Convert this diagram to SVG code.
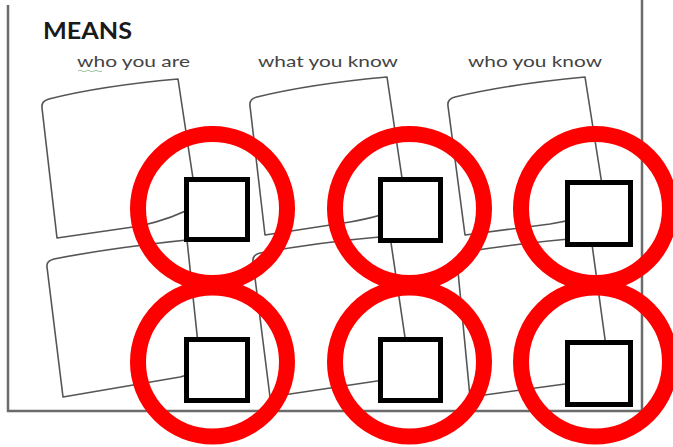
<svg xmlns="http://www.w3.org/2000/svg" width="673" height="447" viewBox="0 0 673 447">
<defs>
<filter id="blur" x="-10%" y="-10%" width="120%" height="120%"><feGaussianBlur stdDeviation="1.3"/></filter>
</defs>
<style>
.frame{stroke:#6b6b6b;stroke-width:2.5;fill:none}
.note{fill:#fff;stroke:#555;stroke-width:1.6;stroke-linejoin:round}
.shadow{fill:none;stroke:#aaa;stroke-width:3;filter:url(#blur)}
.box{fill:#fff;stroke:#000;stroke-width:5}
.ring{fill:none;stroke:#ff0000;stroke-width:16}
.title{font-family:Lato,"Liberation Sans",sans-serif;font-weight:bold;font-size:22px;fill:#1a1a1a}
.label{font-family:Lato,"Liberation Sans",sans-serif;font-size:16px;fill:#444}
</style>
<rect width="673" height="447" fill="#fff"/>
<g id="frame">
<line class="frame" x1="8" y1="5" x2="8" y2="412"/>
<line class="frame" x1="7" y1="411" x2="643" y2="411"/>
<line class="frame" x1="642" y1="0" x2="642" y2="412"/>
</g>
<g id="heading">
<text class="title" x="43" y="39" textLength="89" lengthAdjust="spacingAndGlyphs">MEANS</text>
<text class="label" x="77" y="67" textLength="113" lengthAdjust="spacingAndGlyphs">who you are</text>
<path d="M78,71 q2,-1.5 4,0 t4,0 t4,0 t4,0 t4,0 t4,0" fill="none" stroke="#9cc79c" stroke-width="1"/>
<text class="label" x="258" y="67" textLength="140" lengthAdjust="spacingAndGlyphs">what you know</text>
<text class="label" x="468" y="67" textLength="134" lengthAdjust="spacingAndGlyphs">who you know</text>
</g>
<g id="notes">
<path class="shadow" d="M44,110 Q44,103 51,101 Q100,89 176,82"/>
<path class="note" d="M42,108 Q41,101 49,99 Q100,86 178,79 L197,205 Q175,218 140,226 L57,238 Z"/>
<path class="shadow" d="M252,108 Q252,101 259,99 Q310,87 385,80"/>
<path class="note" d="M250,106 Q249,99 257,97 Q310,84 387,77 L406,205 Q385,216 350,222 L265,235 Z"/>
<path class="shadow" d="M450,108 Q450,101 457,99 Q510,87 583,80"/>
<path class="note" d="M448,106 Q447,99 455,97 Q510,84 585,77 L606,210 Q585,218 550,224 L465,235 Z"/>
<path class="shadow" d="M49,269 Q49,263 56,261 Q110,251 185,243"/>
<path class="note" d="M47,267 Q46,261 54,259 Q110,248 187,240 L201,372 Q190,374 180,377 L63,397 Z"/>
<path class="shadow" d="M255,264 Q255,257 262,255 Q320,245 388,239"/>
<path class="note" d="M253,262 Q252,255 260,253 Q320,242 390,236 L411,378 Q395,380 377,381 L270,397 Z"/>
<path class="shadow" d="M459,263 Q459,256 466,254 Q520,246 589,240"/>
<path class="note" d="M457,261 Q456,254 464,252 Q520,243 591,237 L611,383 Q590,384 565,384 L470,397 Z"/>
</g>
<g id="cell-who-you-are-1">
<rect class="box" x="186.5" y="179.5" width="61" height="60"/>
<circle class="ring" cx="212.5" cy="208.5" r="74.5"/>
</g>
<g id="cell-what-you-know-1">
<rect class="box" x="380.5" y="179.5" width="60" height="61"/>
<circle class="ring" cx="409.5" cy="208.5" r="74.5"/>
</g>
<g id="cell-who-you-know-1">
<rect class="box" x="567.5" y="182.5" width="63" height="62"/>
<circle class="ring" cx="595.5" cy="208.5" r="74.5"/>
</g>
<g id="cell-who-you-are-2">
<rect class="box" x="186.5" y="339.5" width="61" height="61"/>
<circle class="ring" cx="212.5" cy="362" r="74.5"/>
</g>
<g id="cell-what-you-know-2">
<rect class="box" x="380.5" y="339.5" width="60" height="61"/>
<circle class="ring" cx="409.5" cy="362" r="74.5"/>
</g>
<g id="cell-who-you-know-2">
<rect class="box" x="567.5" y="342.5" width="63" height="62"/>
<circle class="ring" cx="595.5" cy="362" r="74.5"/>
</g>
</svg>
